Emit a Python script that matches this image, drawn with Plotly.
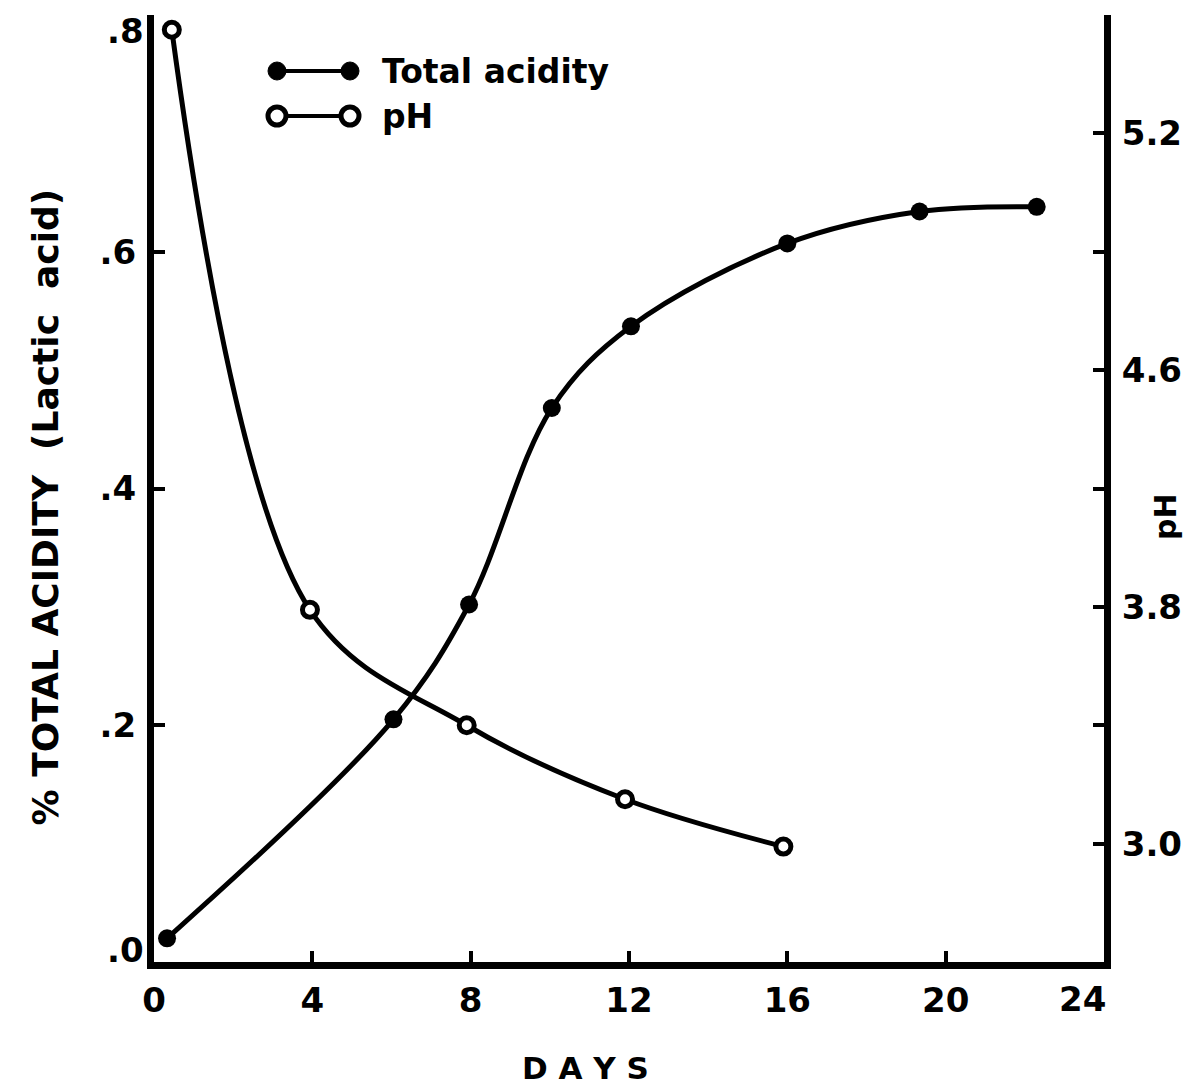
import plotly.graph_objects as go

# Fermentation time course: total acidity (% lactic acid) and pH
acid_days = [0.33, 6.05, 7.96, 10.05, 12.05, 16.0, 19.34, 22.3]
acid_pct = [0.02, 0.205, 0.302, 0.468, 0.537, 0.607, 0.634, 0.638]

ph_days = [0.45, 3.94, 7.9, 11.9, 15.9]
ph_vals = [5.75, 3.79, 3.40, 3.15, 2.99]

day_ticks = [0, 4, 8, 12, 16, 20, 24]
day_tick_text = ["0", "4", "8", "12", "16", "20", ""]
acid_tick_vals = [0.0, 0.2, 0.4, 0.6]
acid_tick_text = ["", ".2", ".4", ".6"]
ph_tick_vals = [2.6, 3.0, 3.4, 3.8, 4.2, 4.6, 5.0, 5.4, 5.8]
ph_tick_text = ["", "3.0", "", "3.8", "", "4.6", "", "5.2", ""]

FONT = "DejaVu Sans"
INK = "black"

fig = go.Figure()

fig.add_trace(go.Scatter(
    x=acid_days, y=acid_pct, mode="lines+markers",
    line=dict(color=INK, width=5, shape="spline", smoothing=1.0),
    marker=dict(symbol="circle", size=18, color=INK),
    name="Total acidity", yaxis="y", showlegend=False,
))

fig.add_trace(go.Scatter(
    x=ph_days, y=ph_vals, mode="lines+markers",
    line=dict(color=INK, width=5, shape="spline", smoothing=1.0),
    marker=dict(symbol="circle", size=15, color="white",
                line=dict(color=INK, width=5)),
    name="pH", yaxis="y2", showlegend=False,
))

tick_font = dict(family=FONT, size=34, color=INK, weight=700)

fig.update_layout(
    width=1193, height=1090,
    margin=dict(l=154, r=89, t=15, b=128),
    paper_bgcolor="white", plot_bgcolor="white",
    showlegend=False,
    xaxis=dict(
        range=[0, 24], tickvals=day_ticks, ticktext=day_tick_text,
        ticks="inside", ticklen=11,
        tickwidth=4, tickcolor=INK, showline=True, linewidth=7,
        linecolor=INK, showgrid=False, zeroline=False,
        tickfont=tick_font, ticklabelstandoff=2,
    ),
    yaxis=dict(
        range=[0, 0.8], tickvals=acid_tick_vals, ticktext=acid_tick_text,
        ticks="inside", ticklen=11, tickwidth=4, tickcolor=INK,
        showline=True, linewidth=7, linecolor=INK, showgrid=False,
        zeroline=False, tickfont=tick_font, ticklabelstandoff=4,
    ),
    yaxis2=dict(
        range=[2.6, 5.8], overlaying="y", side="right",
        tickvals=ph_tick_vals, ticktext=ph_tick_text,
        ticks="inside", ticklen=11, tickwidth=4, tickcolor=INK,
        showline=True, linewidth=7, linecolor=INK, showgrid=False,
        zeroline=False, tickfont=tick_font, ticklabelstandoff=4,
    ),
)

# End labels of the scales, nudged inward from the axis corners
fig.add_annotation(
    x=0, y=0.8, xref="paper", yref="y", text=".8", showarrow=False,
    xanchor="right", yanchor="middle", xshift=-8, yshift=-16,
    font=tick_font,
)
fig.add_annotation(
    x=0, y=0.0, xref="paper", yref="y", text=".0", showarrow=False,
    xanchor="right", yanchor="middle", xshift=-8, yshift=12,
    font=tick_font,
)
fig.add_annotation(
    x=24, y=0, xref="x", yref="paper", text="24", showarrow=False,
    xanchor="center", yanchor="top", xshift=-22, yshift=-15,
    font=tick_font,
)

# Axis titles
fig.add_annotation(
    x=0.5, y=0, xref="paper", yref="paper", text="D A Y S",
    showarrow=False, xanchor="center", yanchor="middle",
    yshift=-106, xshift=-44,
    font=dict(family=FONT, size=31, color=INK, weight=700),
)
fig.add_annotation(
    x=0, y=0.48, xref="paper", yref="paper",
    text="% TOTAL ACIDITY\u00a0 (Lactic\u00a0 acid)", textangle=-90,
    showarrow=False, xanchor="center", yanchor="middle", xshift=-109,
    font=dict(family=FONT, size=36, color=INK, weight=700),
)
fig.add_annotation(
    x=1, y=0.47, xref="paper", yref="paper", text="pH", textangle=-90,
    showarrow=False, xanchor="center", yanchor="middle", xshift=62,
    font=dict(family=FONT, size=30, color=INK, weight=700),
)

# Key: line segments with end markers, drawn in paper space
def px_x(p):
    return (p - 154) / 950.0


def px_y(p):
    return (962 - p) / 947.0


key_rows = [
    ("Total acidity", 71, INK),
    ("pH", 116, "white"),
]
for label, row_y, fill in key_rows:
    fig.add_shape(
        type="line", xref="paper", yref="paper",
        x0=px_x(277), x1=px_x(350), y0=px_y(row_y), y1=px_y(row_y),
        line=dict(color=INK, width=4),
    )
    for cx in (277, 350):
        fig.add_shape(
            type="circle", xref="paper", yref="paper",
            x0=px_x(cx - 9), x1=px_x(cx + 9),
            y0=px_y(row_y + 9), y1=px_y(row_y - 9),
            fillcolor=fill, line=dict(color=INK, width=5 if fill == "white" else 1),
        )
    fig.add_annotation(
        x=px_x(380), y=px_y(row_y), xref="paper", yref="paper",
        text=label, showarrow=False, xanchor="left", yanchor="middle",
        font=dict(family=FONT, size=33, color=INK, weight=700),
    )

fig.write_html("out.html")
